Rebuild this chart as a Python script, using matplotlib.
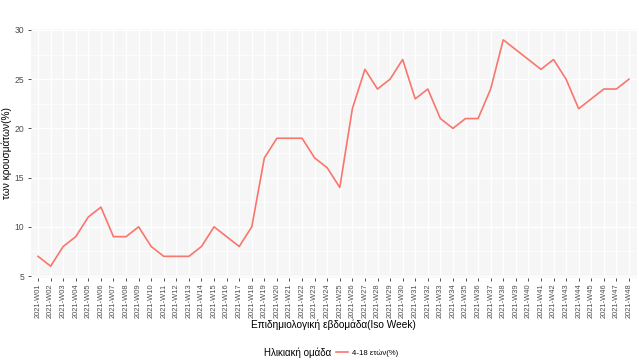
import matplotlib
matplotlib.use("Agg")
import matplotlib.pyplot as plt
from matplotlib.lines import Line2D
import numpy as np

plt.rcParams['font.family'] = ['Liberation Sans', 'DejaVu Sans']

weeks = [f"2021-W{i:02d}" for i in range(1, 49)]
values = [7, 6, 8, 9, 11, 12, 9, 9, 10, 8, 7, 7, 7, 8, 10, 9, 8, 10,
          17, 19, 19, 19, 17, 16, 14, 22, 26, 24, 25, 27, 23, 24, 21, 20,
          21, 21, 24, 29, 28, 27, 26, 27, 25, 22, 23, 24, 24, 25]
series_label = "4-18 ετών(%)"
legend_title = "Ηλικιακή ομάδα"
x_title = "Επιδημιολογική εβδομάδα(Iso Week)"
y_title = "των κρουσμάτων(%)"
y_ticks = [5, 10, 15, 20, 25, 30]

W, H = 639, 360
fig = plt.figure(figsize=(W / 100, H / 100), dpi=100)
left, right, top, bottom = 30.5, 636.5, 28.5, 277.5
ax = fig.add_axes([left / W, (H - bottom) / H, (right - left) / W, (bottom - top) / H])

x = np.arange(len(weeks))
ax.set_facecolor('#F6F6F6')
for s in ax.spines.values():
    s.set_visible(False)

ax.set_xlim(-0.6, len(weeks) - 1 + 0.6)
ax.set_ylim(4.85, 30.15)

# grid
minor_y = [7.5, 12.5, 17.5, 22.5, 27.5]
for yv in minor_y:
    ax.axhline(yv, color='white', lw=0.5, zorder=0.5)
for yv in y_ticks:
    ax.axhline(yv, color='white', lw=1.0, zorder=0.6)
for xv in x:
    ax.axvline(xv, color='white', lw=1.0, zorder=0.6)

ax.plot(x, values, color='#F8766D', lw=1.2, zorder=2, solid_joinstyle='round')

ax.set_xticks(x)
ax.set_xticklabels(weeks, rotation=90, fontsize=5.4, color='#4D4D4D')
ax.set_yticks(y_ticks)
ax.set_yticklabels([str(v) for v in y_ticks], fontsize=6.2, color='#4D4D4D')
ax.tick_params(axis='both', length=2.5, width=0.6, color='#333333', pad=2)

fig.text(333 / W, 1 - 325 / H, x_title, ha='center', va='center', fontsize=7.3, color='black')
fig.text(7 / W, 1 - 153 / H, y_title, ha='center', va='center', rotation=90, fontsize=7.3, color='black')

# legend
fig.text(331 / W, 1 - 353 / H, legend_title, ha='right', va='center', fontsize=7.0, color='black')
handle = Line2D([0], [0], color='#F8766D', lw=1.2)
fig.legend([handle], [series_label], loc='center left', bbox_to_anchor=(336 / W, 1 - 353 / H),
           frameon=False, fontsize=5.6, handlelength=1.6, handletextpad=0.4, borderpad=0, borderaxespad=0)

fig.savefig('out.png', dpi=100, facecolor='white')
